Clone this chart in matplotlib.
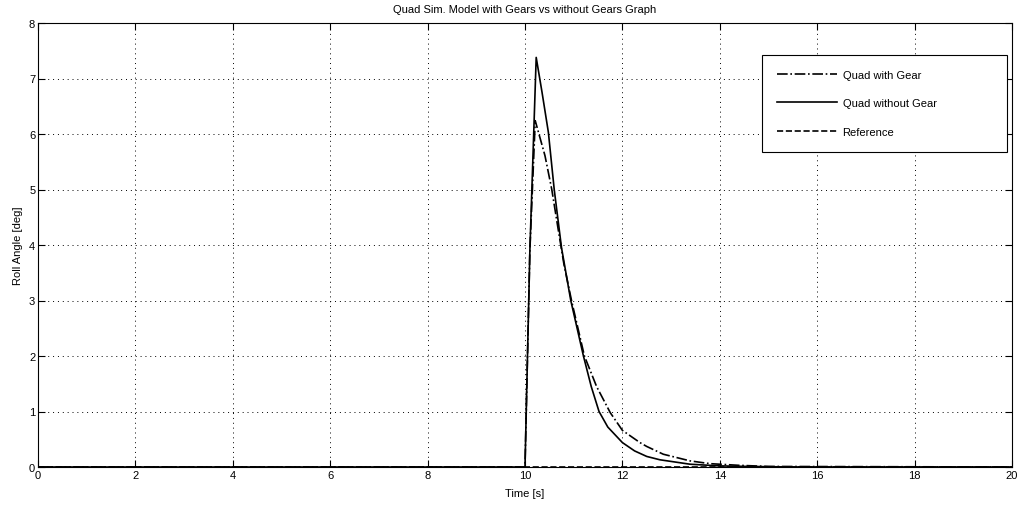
import matplotlib
matplotlib.use("Agg")
import matplotlib.pyplot as plt

# ------------------------------------------
# DATA
# ------------------------------------------
t_gear = [0, 10.0, 10.1, 10.21, 10.41, 10.55, 10.68, 10.8, 10.96, 11.22, 11.47,
          11.75, 12.0, 12.36, 12.5, 12.84, 13.39, 13.8, 14.4, 15.0, 20.0]
roll_gear = [0, 0, 3.9, 6.24, 5.61, 5.0, 4.29, 3.65, 2.98, 2.0, 1.45,
             0.98, 0.66, 0.44, 0.37, 0.23, 0.11, 0.06, 0.03, 0.01, 0]

t_nogear = [0, 10.0, 10.1, 10.23, 10.35, 10.48, 10.6, 10.75, 10.94, 11.2, 11.36,
            11.52, 11.7, 12.0, 12.25, 12.5, 12.77, 13.39, 14.0, 14.6, 15.5, 20.0]
roll_nogear = [0, 0, 3.9, 7.38, 6.75, 6.03, 5.0, 3.95, 3.0, 2.0, 1.45,
               1.0, 0.72, 0.44, 0.29, 0.19, 0.13, 0.05, 0.02, 0.01, 0, 0]

t_ref = [0, 20]
roll_ref = [0, 0]

x_ticks = list(range(0, 21, 2))
y_ticks = list(range(0, 9))

# ------------------------------------------
# PLOT
# ------------------------------------------
plt.rcParams['font.family'] = ['Liberation Sans', 'DejaVu Sans']
plt.rcParams['font.size'] = 8

fig = plt.figure(figsize=(10.22, 5.06), dpi=100)
ax = fig.add_axes([38 / 1022, 38 / 506, 974 / 1022, 444 / 506])

ax.plot(t_gear, roll_gear, color='black', linestyle='-.', linewidth=1.2, label='Quad with Gear')
ax.plot(t_nogear, roll_nogear, color='black', linestyle='-', linewidth=1.2, label='Quad without Gear')
ax.plot(t_ref, roll_ref, color='black', linestyle='--', linewidth=1.2, label='Reference')

ax.set_xlim(0, 20)
ax.set_ylim(0, 8)
ax.set_xticks(x_ticks)
ax.set_yticks(y_ticks)
ax.tick_params(direction='in', length=5, top=True, right=True, pad=2, labelsize=8)
ax.grid(True, color='black', linestyle=(0, (1, 4)), linewidth=0.7)
for s in ax.spines.values():
    s.set_color('black')
    s.set_linewidth(0.8)

ax.set_title("Quad Sim. Model with Gears vs without Gears Graph", fontsize=8, pad=8)
ax.set_xlabel("Time [s]", fontsize=8, labelpad=6)
ax.set_ylabel("Roll Angle [deg]", fontsize=8, labelpad=4)

# legend box spans px 762..1007 horizontally, top at px 56
lx0 = (762 - 38) / 974
lw = (1007 - 762) / 974
ltop = 1 - (56 - 24) / 444
leg = ax.legend(loc='upper left', bbox_to_anchor=(lx0, ltop - 0.3, lw, 0.3),
                mode='expand', fancybox=False, edgecolor='black',
                framealpha=1, handlelength=5.4, labelspacing=1.65, borderpad=1.35,
                handletextpad=0.5, borderaxespad=0)
leg.get_frame().set_linewidth(0.8)

fig.savefig("out.png", dpi=100)
